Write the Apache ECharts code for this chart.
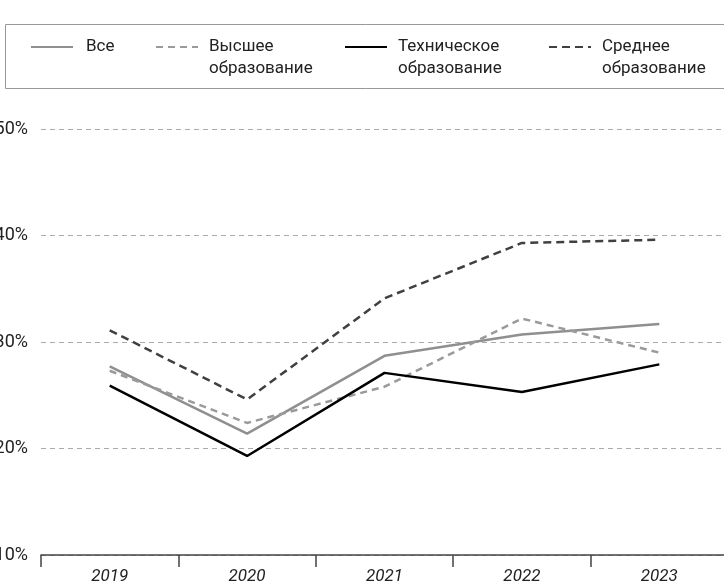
<!DOCTYPE html>
<html>
<head>
<meta charset="utf-8">
<script src="https://cdn.jsdelivr.net/npm/echarts@6/dist/echarts.min.js"></script>
<style>
  html, body { margin: 0; padding: 0; background: #fff; }
  #main { width: 724px; height: 587px; }
</style>
</head>
<body>
<div id="main"></div>
<script>
var years = ['2019', '2020', '2021', '2022', '2023'];
var vse = [27.7, 21.4, 28.7, 30.7, 31.7];
var vysshee = [27.3, 22.4, 25.8, 32.2, 29.0];
var tekhnicheskoe = [25.9, 19.3, 27.1, 25.3, 27.9];
var srednee = [31.1, 24.6, 34.1, 39.3, 39.6];

var names = ['Все', 'Высшее\nобразование', 'Техническое\nобразование', 'Среднее\nобразование'];
var legendLeft = [25, 150, 339, 543];

var font = 'Roboto, sans-serif';

var chart = echarts.init(document.getElementById('main'));

// one legend per item; a blank first line keeps the icon level with the first text line
var legends = names.map(function (n, i) {
  var twoLines = n.indexOf('\n') >= 0;
  return {
    data: [n],
    left: legendLeft[i],
    top: twoLines ? 9 : 31,
    itemWidth: 42,
    itemHeight: 14,
    selectedMode: false,
    itemStyle: { opacity: 0 },
    formatter: function (name) {
      return twoLines ? ' \n' + name : name;
    },
    textStyle: {
      fontFamily: font,
      fontSize: 17,
      color: '#222',
      lineHeight: 22,
      padding: [0, 0, 0, twoLines ? 6 : 8]
    }
  };
});

function line(name, data, color, type, width) {
  return {
    name: name,
    type: 'line',
    data: data,
    symbol: 'none',
    showSymbol: false,
    lineStyle: { color: color, type: type, width: width },
    itemStyle: { color: color },
    animation: false
  };
}

chart.setOption({
  animation: false,
  graphic: [{
    type: 'rect',
    shape: { x: 5.5, y: 24.5, width: 730, height: 64 },
    style: { fill: 'none', stroke: '#999', lineWidth: 1 }
  }],
  legend: legends,
  grid: { left: 41, right: -4, top: 129, bottom: 32, outerBoundsMode: 'none' },
  xAxis: {
    type: 'category',
    data: years,
    boundaryGap: true,
    axisLine: { lineStyle: { color: '#444', width: 1.5 } },
    axisTick: { show: true, length: 12, lineStyle: { color: '#444', width: 1.5 } },
    axisLabel: {
      margin: 13,
      fontFamily: font,
      fontSize: 17,
      fontStyle: 'italic',
      color: '#222'
    }
  },
  yAxis: {
    type: 'value',
    min: 10,
    max: 50,
    interval: 10,
    axisLine: { show: false },
    axisTick: { show: false },
    axisLabel: {
      margin: 13,
      fontFamily: font,
      fontSize: 18,
      color: '#222',
      formatter: '{value}%'
    },
    splitLine: {
      lineStyle: { color: '#aaa', type: [5, 4], width: 1 }
    }
  },
  series: [
    line(names[0], vse, '#8f8f8f', 'solid', 2.5),
    line(names[1], vysshee, '#9a9a9a', [7, 5], 2.5),
    line(names[2], tekhnicheskoe, '#000', 'solid', 2.5),
    line(names[3], srednee, '#404040', [8, 5], 2.5)
  ]
});
</script>
</body>
</html>
